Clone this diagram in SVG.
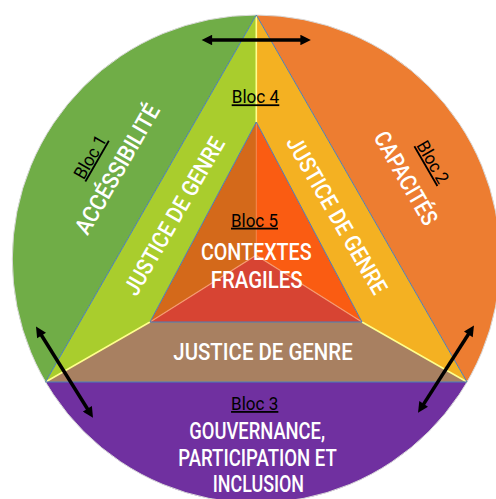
<svg xmlns="http://www.w3.org/2000/svg" width="496" height="499" viewBox="0 0 496 499">
  <style>
    .lbl { font-family: Roboto, "Liberation Sans", sans-serif; fill: #fff; font-size: 23px; font-weight: 500; text-anchor: middle; }
    .bloc { font-family: Roboto, "Liberation Sans", sans-serif; fill: #000; font-size: 18px; text-anchor: middle; text-decoration: underline; }
    .edge { fill: none; stroke: #4A7EBB; stroke-width: 1; }
    .seam { fill: none; stroke: #FFFF8C; stroke-width: 1.6; }
    .split { fill: none; stroke: #F59A70; stroke-width: 1.2; }
    .arrow { fill: none; stroke: #000; stroke-width: 3.5; marker-start: url(#head); marker-end: url(#head); }
  </style>
  <defs>
    <clipPath id="disc">
      <circle cx="256.3" cy="259" r="244"/>
    </clipPath>
    <marker id="head" viewBox="0 0 10 10" refX="3" refY="5" markerWidth="3.3" markerHeight="3" orient="auto-start-reverse">
      <path d="M0,0 L10,5 L0,10 z" fill="#000"/>
    </marker>
  </defs>

  <!-- outer disc segments -->
  <g clip-path="url(#disc)">
    <g id="bloc1">
      <polygon points="0,0 256.3,0 256.3,15 45.5,382 0,382" fill="#70AD47"/>
    </g>
    <g id="bloc2">
      <polygon points="256.3,0 496,0 496,382 467,382 256.3,15" fill="#ED7D31"/>
    </g>
    <g id="bloc3">
      <rect x="0" y="382" width="496" height="117" fill="#7030A0"/>
    </g>
  </g>
  <circle cx="256.3" cy="259" r="244" fill="none" stroke="#D9D9D9" stroke-width="1"/>

  <!-- gender justice bands -->
  <g id="bloc4">
    <polygon points="256.3,15 45.5,382 150,322 256.3,122" fill="#A9CD2D"/>
    <polygon points="256.3,15 467,382 362,322 256.3,122" fill="#F4B122"/>
    <polygon points="45.5,382 467,382 362,322 150,322" fill="#A88061"/>
    <path class="seam" d="M256.3,15 V122 M45.5,382 L150,322 M467,382 L362,322"/>
    <path class="edge" d="M256.3,15 L45.5,382 H467 Z"/>
  </g>

  <!-- fragile contexts core -->
  <g id="bloc5">
    <polygon points="256.3,122 150,322 256.1,255.3" fill="#D4691A"/>
    <polygon points="256.3,122 362,322 256.1,255.3" fill="#FA5C12"/>
    <polygon points="150,322 362,322 256.1,255.3" fill="#D74433"/>
    <path class="split" d="M150,322 L256.1,255.3 L362,322"/>
    <path d="M256.3,122 V255.3" stroke="#F08A50" stroke-width="1.2" opacity="0.7"/>
    <path class="edge" d="M256.3,122 L150,322 H362 Z"/>
  </g>

  <!-- labels -->
  <g id="labels">
    <text class="bloc" x="255.5" y="103.3" textLength="47.6" lengthAdjust="spacingAndGlyphs">Bloc 4</text>
    <text class="bloc" x="254.5" y="226.7" textLength="47" lengthAdjust="spacingAndGlyphs">Bloc 5</text>
    <text class="lbl" x="256.3" y="260" textLength="110.7" lengthAdjust="spacingAndGlyphs">CONTEXTES</text>
    <text class="lbl" x="256.7" y="288.3" textLength="92" lengthAdjust="spacingAndGlyphs">FRAGILES</text>
    <text class="lbl" x="263" y="360" textLength="179.4" lengthAdjust="spacingAndGlyphs">JUSTICE DE GENRE</text>
    <text class="bloc" x="254.7" y="410" textLength="47.3" lengthAdjust="spacingAndGlyphs">Bloc 3</text>
    <text class="lbl" x="257.2" y="439.3" textLength="135.7" lengthAdjust="spacingAndGlyphs">GOUVERNANCE,</text>
    <text class="lbl" x="257.5" y="466" textLength="158.4" lengthAdjust="spacingAndGlyphs">PARTICIPATION ET</text>
    <text class="lbl" x="258.4" y="491.7" textLength="91.3" lengthAdjust="spacingAndGlyphs">INCLUSION</text>

    <g transform="translate(90,157) rotate(-60)">
      <text class="bloc" x="0" y="6.3" textLength="47" lengthAdjust="spacingAndGlyphs">Bloc 1</text>
    </g>
    <g transform="translate(117,169) rotate(-60)">
      <text class="lbl" x="0" y="8.2" textLength="146" lengthAdjust="spacingAndGlyphs">ACCÉSSIBILITÉ</text>
    </g>
    <g transform="translate(174,216) rotate(-60)">
      <text class="lbl" x="0" y="8.2" textLength="178" lengthAdjust="spacingAndGlyphs">JUSTICE DE GENRE</text>
    </g>
    <g transform="translate(337,215) rotate(60)">
      <text class="lbl" x="0" y="8.2" textLength="178" lengthAdjust="spacingAndGlyphs">JUSTICE DE GENRE</text>
    </g>
    <g transform="translate(406,178) rotate(60)">
      <text class="lbl" x="0" y="8.2" textLength="104" lengthAdjust="spacingAndGlyphs">CAPACITÉS</text>
    </g>
    <g transform="translate(433,162) rotate(60)">
      <text class="bloc" x="0" y="6.3" textLength="46" lengthAdjust="spacingAndGlyphs">Bloc 2</text>
    </g>
  </g>

  <!-- two-way interaction arrows -->
  <g id="connectors">
    <line class="arrow" x1="209" y1="40" x2="303.5" y2="40"/>
    <line class="arrow" x1="39.9" y1="332.8" x2="89.1" y2="411.5"/>
    <line class="arrow" x1="470" y1="331.7" x2="422" y2="406.6"/>
  </g>
</svg>
